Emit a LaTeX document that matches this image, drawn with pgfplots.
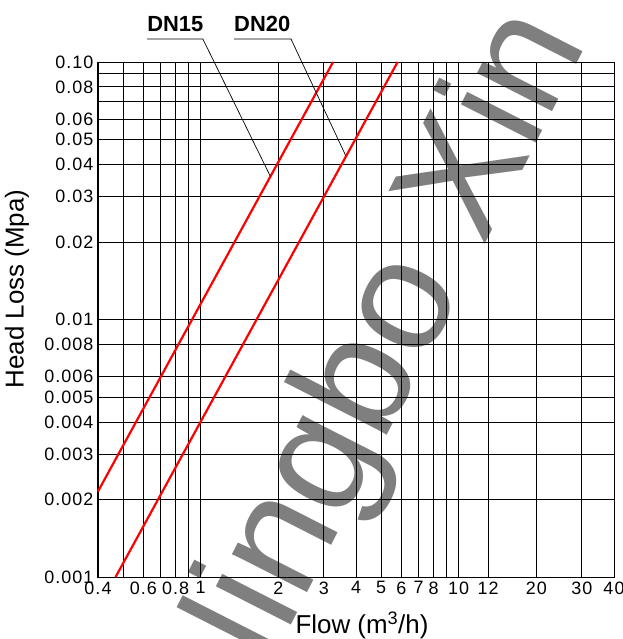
\documentclass[border=0pt]{standalone}
\usepackage{fontspec}
\setmainfont{Liberation Sans}
\newfontfamily\tickfont{Liberation Sans}[LetterSpace=6]
\usepackage{pgfplots}
\pgfplotsset{compat=1.18}

\begin{document}
\begin{tikzpicture}
\path[use as bounding box] (-98bp,-62bp) rectangle (525bp,577bp);
\begin{axis}[
    at={(0,0)}, anchor=south west,
    scale only axis, width=516bp, height=515bp,
    xmode=log, ymode=log,
    xmin=0.4, xmax=40, ymin=0.001, ymax=0.1,
    xtick={0.4,0.5,0.6,0.7,0.8,0.9,1,2,3,4,5,6,7,8,9,10,13,20,30,40},
    xticklabels={0.4,,0.6,,0.8,,1,2,3,4,5,6,7,8,,10,12,20,30,40},
    ytick={0.001,0.002,0.003,0.004,0.005,0.006,0.008,0.01,0.02,0.03,0.04,0.05,0.06,0.07,0.08,0.09,0.1},
    yticklabels={0.001,0.002,0.003,0.004,0.005,0.006,0.008,0.01,0.02,0.03,0.04,0.05,0.06,,0.08,,0.10},
    minor xtick={}, minor ytick={},
    major tick length=0pt,
    grid=major,
    grid style={black, line width=0.95bp},
    axis line style={black, line width=1bp},
    tick label style={font=\tickfont\fontsize{18}{18}\selectfont},
    xticklabel style={yshift=-1bp},
    yticklabel style={xshift=-1bp},
    xlabel={Flow (m\textsuperscript{3}/h)},
    xlabel style={at={(axis description cs:0.5116,-0.109)}, anchor=base, font=\fontsize{26}{26}\selectfont},
    ylabel={Head Loss (Mpa)},
    ylabel style={at={(axis description cs:-0.157,0.559)}, anchor=center, font=\fontsize{26}{26}\selectfont},
    clip=false,
  ]
  % DN15
  \addplot[red, line width=2.2bp] coordinates {(0.4,0.00215) (3.26,0.1)};
  % DN20
  \addplot[red, line width=2.2bp] coordinates {(0.468,0.001) (5.80,0.1)};

  \draw[line width=0.7bp] (axis cs:0.62,0.1228) -- (axis cs:1.02,0.1228) -- (axis cs:1.86,0.0361);
  \draw[line width=0.7bp] (axis cs:1.347,0.1228) -- (axis cs:2.24,0.1228) -- (axis cs:3.65,0.0433);
  \node[anchor=base west, inner sep=0pt, font=\bfseries\fontsize{22}{22}\selectfont] at (axis cs:0.62,0.1308) {DN15};
  \node[anchor=base west, inner sep=0pt, font=\bfseries\fontsize{22}{22}\selectfont] at (axis cs:1.347,0.1308) {DN20};
\end{axis}
\node[anchor=base west, rotate=63, inner sep=0pt, text=black, opacity=0.5,
      font=\fontsize{160}{160}\selectfont] at (136bp,-160bp) {Ningbo Xin};
\end{tikzpicture}
\end{document}
